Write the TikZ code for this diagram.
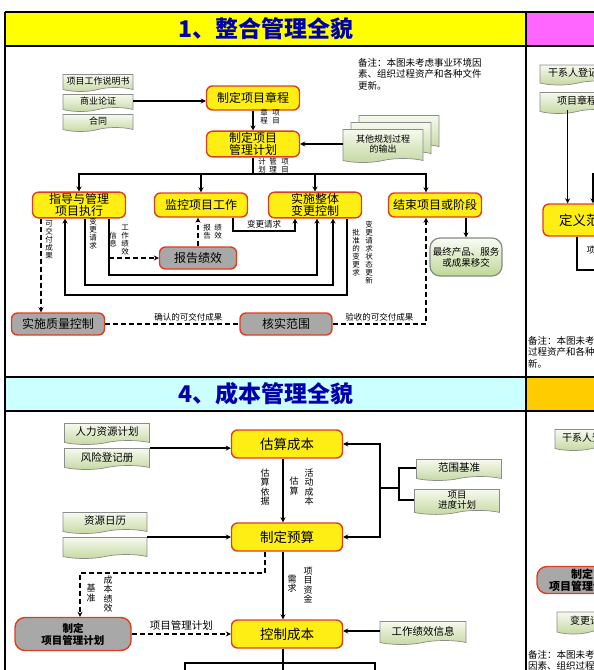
\documentclass[tikz,border=0pt]{standalone}
\usepackage{fontspec}
\setmainfont{Noto Sans CJK SC}
\usetikzlibrary{arrows.meta,positioning,shapes.symbols,calc}
\definecolor{hdrYellow}{RGB}{255,255,0}
\definecolor{hdrMagenta}{RGB}{255,102,255}
\definecolor{hdrCyan}{RGB}{204,255,255}
\definecolor{hdrGold}{RGB}{255,204,0}
\definecolor{titleBlue}{RGB}{0,0,170}
\definecolor{procYellow}{RGB}{255,238,20}
\definecolor{procRed}{RGB}{225,60,30}
\definecolor{boxGrey}{RGB}{168,168,168}
\definecolor{docTop}{RGB}{246,249,238}
\definecolor{docBottom}{RGB}{196,216,160}
\definecolor{docEdge}{RGB}{140,140,140}
\definecolor{finalTop}{RGB}{250,252,245}
\definecolor{finalBottom}{RGB}{190,215,150}
\definecolor{finalEdge}{RGB}{130,140,130}

\begin{document}
\begin{tikzpicture}[x=1pt, y=-1pt,
  every node/.style={font=\fontsize{12}{12.5}\selectfont},
  proc/.style={draw=procRed, fill=procYellow, line width=1.4pt, rounded corners=6pt,
    align=center, inner sep=1pt, minimum width=93, minimum height=24},
  proc4/.style={proc, minimum width=111, minimum height=28, font=\fontsize{13.5}{14}\selectfont},
  greybox/.style={proc, fill=boxGrey, minimum height=22},
  docbox/.style={tape, tape bend top=none, tape bend bottom=in and out, tape bend height=4pt,
    draw=docEdge, line width=0.7pt, top color=docTop, bottom color=docBottom,
    align=center, inner sep=1pt, minimum width=70, minimum height=17, font=\fontsize{9}{10}\selectfont},
  doc4/.style={docbox, minimum width=85, minimum height=21, font=\fontsize{10.5}{11}\selectfont},
  vlab/.style={align=center, inner sep=0pt, font=\fontsize{7.5}{8}\selectfont},
  vlab4/.style={align=center, inner sep=0pt, font=\fontsize{9}{9.5}\selectfont},
  hlab/.style={inner sep=1pt, font=\fontsize{8.5}{9}\selectfont},
  note/.style={align=left, anchor=north west, inner sep=0pt, font=\fontsize{9.5}{11.5}\selectfont},
  arr/.style={-{Stealth[length=5pt,width=5pt]}, line width=1.6pt},
  dasharr/.style={arr, line width=1.3pt, dash pattern=on 5pt off 3pt},
  title/.style={font=\bfseries\fontsize{23}{23}\selectfont, text=titleBlue}]
  \useasboundingbox (0,0) rectangle (594,670);
  \clip (0,0) rectangle (594,670);
  % Panels
  \fill[hdrYellow] (5,12) rectangle (526,46);
  \fill[hdrMagenta] (526,12) rectangle (600,46);
  \fill[hdrCyan] (5,377) rectangle (526,411);
  \fill[hdrGold] (526,377) rectangle (600,411);
  \draw[line width=1.5pt] (5,12) -- (600,12) (5,46) -- (600,46)
    (5,377) -- (600,377) (5,411) -- (600,411) (5,12) -- (5,680);
  \draw[line width=2pt] (526,12) -- (526,680);
  \node[title] (title1) at (266,29) {1、整合管理全貌};
  \node[title] (title4) at (266,394) {4、成本管理全貌};

  % 1. Integration
  \node[docbox] (sow) at (98,81) {项目工作说明书};
  \node[docbox] (bcase) at (98,101) {商业论证};
  \node[docbox] (contract) at (98,121) {合同};
  \node[proc] (charter) at (253,98) {制定项目章程};
  \node[proc, minimum height=25] (pmplan) at (253,144) {制定项目\\管理计划};
  \node[docbox, minimum width=80, minimum height=33] (other3) at (399,130) {};
  \node[docbox, minimum width=80, minimum height=33] (other2) at (391,137) {};
  \node[docbox, minimum width=80, minimum height=33] (other) at (383,144) {其他规划过程\\的输出};
  \node[note] (note1) at (358,58) {备注：本图未考虑事业环境因\\素、组织过程资产和各种文件\\更新。};
  \node[proc] (direct) at (79,205) {指导与管理\\项目执行};
  \node[proc] (monitor) at (201,205) {监控项目工作};
  \node[proc] (icc) at (315,205) {实施整体\\变更控制};
  \node[proc] (close) at (435,205) {结束项目或阶段};
  \node[draw=finalEdge, line width=1.2pt, rounded corners=10pt, top color=finalTop,
    bottom color=finalBottom, align=center, minimum width=72, minimum height=38,
    inner sep=1pt, font=\fontsize{9.5}{11}\selectfont] (final) at (466,257) {最终产品、服务\\或成果移交};
  \node[greybox, minimum width=77] (report) at (198,258) {报告绩效};
  \node[greybox] (qc) at (58,324) {实施质量控制};
  \node[greybox, minimum width=92] (verify) at (286,324) {核实范围};
  % Arrows
  \draw[arr] (bcase.east) -- (bcase.east -| charter.west);
  \draw[arr] (charter) -- (pmplan);
  \draw[arr] (other.west) -- (other.west -| pmplan.east);
  \node[vlab] (lbch1) at (264,117) {章\\程};
  \node[vlab] (lbch2) at (276,117) {项\\目};
  \coordinate (bus) at (253,174);
  \draw[line width=1.6pt] (pmplan.south) -- (bus);
  \draw[arr] (bus) -| (direct.north);
  \draw[arr] (bus -| monitor.north) -- (monitor.north);
  \draw[arr] (bus -| icc.north) -- (icc.north);
  \draw[arr] (bus) -| ([xshift=-9pt]close.north);
  \node[vlab] (lbpl1) at (262,166) {计\\划};
  \node[vlab] (lbpl2) at (273,166) {管\\理};
  \node[vlab] (lbpl3) at (285,166) {项\\目};
  % Deliverables
  \draw[dasharr] ([xshift=-38pt]direct.south) -- ([xshift=-38pt]direct.south |- qc.north);
  \node[vlab] (lbdeliv) at (49,240) {可\\交\\付\\成\\果};
  \draw[dasharr, -] (qc.east) -- (verify.west) node[hlab, pos=0.62, above=1pt] (lbvalid) {确认的可交付成果};
  \coordinate (accpt) at (426,324);
  \draw[dasharr] (verify.east) -- (accpt) node[hlab, midway, above=1pt] (lbaccpt) {验收的可交付成果}
    -- (accpt |- close.south);
  \draw[arr] (close.south -| final.north) -- (final.north);
  % Loops
  \coordinate (loopA) at (65,295);
  \draw[arr] ([xshift=32pt]icc.south) |- (loopA) -- (loopA |- direct.south);
  \coordinate (loopB) at (85,285);
  \draw[arr] ([xshift=6pt]direct.south) -- (loopB) -| ([xshift=18pt]icc.south);
  \coordinate (loopC) at (109,275);
  \draw[arr] ([xshift=30pt]direct.south) -- (loopC) -| ([xshift=2pt]icc.south);
  \draw[dasharr] (loopC |- report.west) -- (report.west);
  \draw[dasharr] (report.north) -- (report.north |- monitor.south);
  \coordinate (loopD) at (233,231);
  \draw[arr] ([xshift=32pt]monitor.south) -- (loopD) -| ([xshift=-20pt]icc.south);
  \node[vlab] (lbchg1) at (93,234) {变\\更\\请\\求};
  \node[vlab] (lbwpi1) at (125,240) {工\\作\\绩\\效};
  \node[vlab] (lbwpi2) at (113,240) {信\\息};
  \node[vlab] (lbrep1) at (207,232) {报\\告};
  \node[vlab] (lbrep2) at (218,232) {绩\\效};
  \node[hlab] (lbchg2) at (264,224) {变更请求};
  \node[vlab] (lbappr) at (356,253) {批\\准\\的\\变\\更\\求};
  \node[vlab] (lbstat) at (369,253) {变\\更\\请\\求\\状\\态\\更\\新};

  % 2. Scope (cut off)
  \node[docbox, minimum width=76, minimum height=20, font=\fontsize{10}{11}\selectfont] (stakeR) at (578,73) {干系人登记册};
  \node[docbox, minimum width=74, minimum height=21, font=\fontsize{10}{11}\selectfont] (charterR) at (577,101) {项目章程};
  \node[proc, minimum width=86, minimum height=32, font=\fontsize{13.5}{14}\selectfont] (defineR) at (586,220) {定义范围};
  \draw[arr] ([xshift=28pt]charterR.south west) -- ([xshift=28pt]charterR.south west |- defineR.north);
  \coordinate (inR) at (593,173);
  \draw[arr] (inR) -- (inR |- defineR.north);
  \coordinate (lowR) at (577,270);
  \draw[line width=1.6pt] (lowR |- defineR.south) -- (lowR) -- ++(30,0);
  \node[vlab4] (lbR) at (591,250) {项};
  \node[note] (note2) at (528,336) {备注：本图未考虑事业环境因素、组织\\过程资产和各种文件更\\新。};

  % 4. Cost
  \node[doc4] (hr) at (107,432) {人力资源计划};
  \node[doc4] (risk) at (107,457) {风险登记册};
  \node[proc4] (estimate) at (287,444) {估算成本};
  \node[proc4] (budget) at (287,537) {制定预算};
  \node[proc4] (control) at (287,634) {控制成本};
  \node[doc4, minimum width=84] (rescal) at (105,521) {资源日历};
  \node[doc4, minimum width=84] (blank) at (105,546) {};
  \node[doc4] (scope) at (459,468) {范围基准};
  \node[doc4, minimum height=24, font=\fontsize{9.5}{10.5}\selectfont] (sched) at (457,500) {项目\\进度计划};
  \node[greybox, rounded corners=10pt, minimum width=116, minimum height=33,
    font=\bfseries\fontsize{10.5}{12}\selectfont] (pmp4) at (73,634) {制定\\项目管理计划};
  \node[doc4, minimum width=86, minimum height=23] (wpi) at (423,631) {工作绩效信息};
  \draw[arr] (risk.north east) -- (risk.north east -| estimate.west);
  \draw[arr] (blank.east |- budget.west) -- (budget.west);
  \draw[arr] ([xshift=-4pt]estimate.south) -- ([xshift=-4pt]budget.north);
  \draw[arr] ([xshift=-4pt]budget.south) -- ([xshift=-4pt]control.north);
  \node[vlab4] (lbbasis) at (265,487) {估\\算\\依\\据};
  \node[vlab4] (lbest) at (294,486) {估\\算};
  \node[vlab4] (lbact) at (309,487) {活\\动\\成\\本};
  \coordinate (rbar) at (380,488);
  \coordinate (rjoin) at (399,488);
  \draw[arr, line width=2.2pt] (rbar) |- (estimate.east);
  \draw[arr, line width=2.2pt] (rbar) |- (budget.east);
  \draw[line width=1.6pt] (scope.west) -| (rjoin) |- (sched.west);
  \draw[line width=1.6pt] (rjoin) -- (rbar);
  \coordinate (dashc) at (80,573);
  \draw[dasharr] ([xshift=-22pt]budget.south) |- (dashc) -- (dashc |- pmp4.north);
  \node[vlab4] (lbperf) at (108,594) {成\\本\\绩\\效};
  \node[vlab4] (lbbase) at (91,593) {基\\准};
  \draw[dasharr] (pmp4.east) -- (control.west) node[midway, above=2pt, hlab, font=\fontsize{10.5}{11}\selectfont] (lbpmp) {项目管理计划};
  \node[vlab4] (lbneed) at (292,584) {需\\求};
  \node[vlab4] (lbfund) at (308,585) {项\\目\\资\\金};
  \draw[arr] (wpi.west) -- (wpi.west -| control.east);
  \coordinate (cbL) at (185,663);
  \coordinate (cbR) at (375,663);
  \draw[line width=1.6pt] ([xshift=-4pt]control.south) -- ++(0,30);
  \draw[line width=1.6pt] ($(cbL)+(0,20)$) -- (cbL) -- (cbR) -- ++(0,20);
  % 5. (cut off)
  \node[docbox, minimum width=74, minimum height=21, font=\fontsize{10}{11}\selectfont] (stake4R) at (592,438) {干系人登记册};
  \node[greybox, rounded corners=10pt, minimum width=90, minimum height=27,
    font=\bfseries\fontsize{11}{12}\selectfont] (pmpR) at (582,580) {制定\\项目管理计划};
  \node[docbox, minimum width=66, minimum height=22, font=\fontsize{10}{11}\selectfont] (changeR) at (590,621) {变更请求};
  \node[note] (note3) at (528,650) {备注：本图未考虑事业环境\\因素、组织过程资产和各种};
\end{tikzpicture}
\end{document}
